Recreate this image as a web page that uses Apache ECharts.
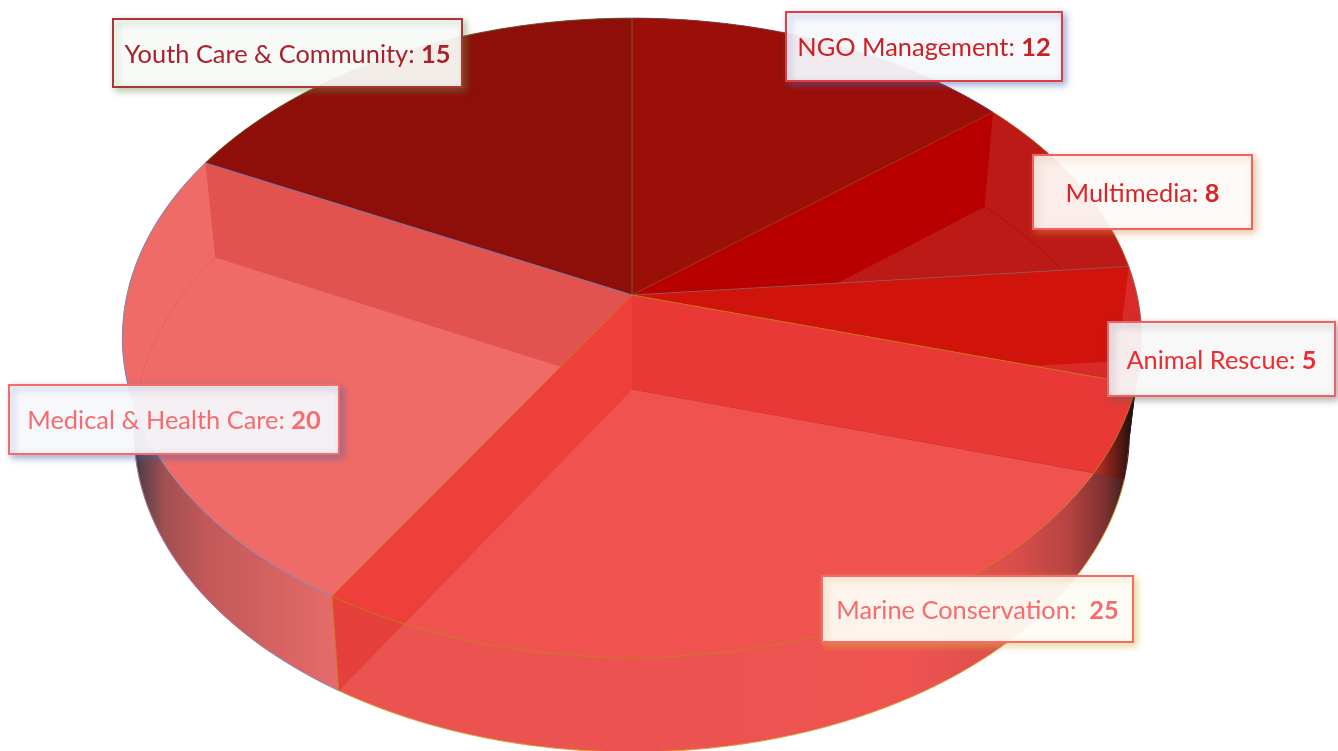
<!DOCTYPE html>
<html><head><meta charset="utf-8">
<style>html,body{margin:0;padding:0;background:#fff}#c{width:1338px;height:751px}</style>
<script src="https://cdn.jsdelivr.net/npm/echarts@6/dist/echarts.min.js"></script>
</head><body><div id="c"></div>
<script>
// ---- data (clockwise from 12 o'clock) ----
const categories = ['NGO Management','Multimedia','Animal Rescue','Marine Conservation','Medical & Health Care','Youth Care & Community'];
const values = [12,8,5,25,20,15];
const separators = [': ',': ',': ',':  ',': ',': '];

// ---- styles ----
const faceColors = ['#9c0e08','#bb1a16','#d92a28','#f05250','#ef6b68','#8e0f09'];
const wallColors = [[null,null],['#b80000',null],['#d0130b',null],['#e83936','#ee3f3a'],[null,'#e2534f'],[null,null]];
const radialColors = ['#7a5a18','#8f3c14','#96504e','#c8761a','#c8761a','#6f7fb0'];
const arcColors = ['#7a3a50','#c06a40','#b06a50','#c8761a','#7a8ac0','#6a5a30'];
const labelInk = ['#cc1f22','#dc2226','#ee2a2e','#f76b6e','#f76b6e','#a8212b'];
const labelBorder = ['#e23c3e','#f26063','#f26063','#f86a68','#f86a68','#ac3538'];
const labelShadow = ['rgba(70,100,190,.55)','rgba(220,140,70,.5)','rgba(90,90,90,.5)','rgba(215,185,70,.6)','rgba(70,100,170,.55)','rgba(100,140,70,.5)'];
const labelBoxes = [[786,12,276,69],[1033,155,219,74],[1108,322,227,74],[822,576,311,66],[9,385,330,69],[113,19,349,68]];

// ---- perspective model of the disc ----
const disc = {cx:632, cy:295, R:505, a:274.4, c:-0.134, drop:94.5, shrink:0.977};
const total = values.reduce((s,v)=>s+v,0);
function bounds(i){let s=0;for(let k=0;k<i;k++)s+=values[k];return [s/total*2*Math.PI,(s+values[i])/total*2*Math.PI];}
function topPt(t){const u=Math.sin(t),v=-Math.cos(t),d=1+disc.c*v;return [disc.cx+disc.R*u/d,(disc.a*v+disc.cy)/d];}
function botPt(t){const u=Math.sin(t),v=-Math.cos(t),d=1+disc.c*v;return [disc.cx+disc.shrink*disc.R*u/d,(disc.a*v+disc.cy)/d+disc.drop];}
const apex=[disc.cx,disc.cy], apexB=[disc.cx,disc.cy+disc.drop];
function arcPts(fn,a,b,n){const p=[];n=n||120;for(let i=0;i<=n;i++)p.push(fn(a+(b-a)*i/n));return p;}
function sideOf(p,a,b){return (b[0]-a[0])*(p[1]-a[1])-(b[1]-a[1])*(p[0]-a[0]);}
function clipHalf(poly,a,b){const out=[];for(let i=0;i<poly.length;i++){const P=poly[i],Q=poly[(i+1)%poly.length],sp=sideOf(P,a,b),sq=sideOf(Q,a,b);
  if(sp>=0)out.push(P);
  if((sp>=0)!==(sq>=0)){const k=sp/(sp-sq);out.push([P[0]+(Q[0]-P[0])*k,P[1]+(Q[1]-P[1])*k]);}}
  return out;}
function clipWedge(poly,t0,t1){let r=clipHalf(poly,apex,topPt(t0));if(r.length)r=clipHalf(r,topPt(t1),apex);return r;}
function grad(x0,x1,stops){return {type:'linear',x:x0,y:0,x2:x1,y2:0,global:true,colorStops:stops.map(s=>({offset:s[0],color:s[1]}))};}
// part of a radial wall that lies inside the top rim: walk the rim from t towards other until it crosses the wall's lower edge
function wallInsideRim(t,other){
  const b=botPt(t),sign=Math.sign(sideOf(apex,apexB,b)),pts=[];
  for(const q of arcPts(topPt,t,other,400)){ if(Math.sign(sideOf(q,apexB,b))!==sign)break; pts.push(q); }
  return [apex].concat(pts,[apexB]);
}
const sideFills = [
  '#8a1010','#a01410',
  grad(1090,1136,[[0,'#c03028'],[.6,'#8a1e18'],[1,'#2a1010']]),
  grad(340,1130,[[0,'#ea5350'],[.72,'#ee5350'],[.85,'#dc4e4a'],[.92,'#b84442'],[.97,'#7a3030'],[1,'#2a1c1c']]),
  grad(133,340,[[0,'#2c2c44'],[.04,'#5a4048'],[.15,'#a05050'],[.35,'#c25858'],[1,'#e66c6a']]),
  '#8a1010'
];
const marineOuterWalls = [grad(1095,1130,[[0,'#b83028'],[.6,'#6a1c14'],[1,'#2a1010']]),'#e5403c'];
const bottomEdge = [null,null,null,'#dca030','#8090b8',null];

const chart = echarts.init(document.getElementById('c'),null,{renderer:'canvas',width:1338,height:751});
const rows = values.map(v=>[v]);

function renderSide(p,api){
  const i=p.dataIndex,[t0,t1]=bounds(i);
  const poly=arcPts(topPt,t0,t1).concat(arcPts(botPt,t1,t0));
  const ch=[{type:'polygon',shape:{points:poly},style:{fill:sideFills[i]}}];
  if(bottomEdge[i])ch.push({type:'polyline',shape:{points:arcPts(botPt,t0,t1)},style:{fill:null,stroke:bottomEdge[i],lineWidth:1}});
  return {type:'group',children:ch};
}
function renderFace(p,api){
  const i=p.dataIndex,[t0,t1]=bounds(i);
  const ch=[{type:'polygon',shape:{points:[apex].concat(arcPts(topPt,t0,t1))},style:{fill:faceColors[i]}}];
  [t0,t1].forEach((t,k)=>{
    const col=wallColors[i][k];if(!col)return;
    const q=clipWedge([apex,topPt(t),botPt(t),apexB],t0,t1);
    if(q.length<3)return;
    if(i===3){ // Marine walls run past the rim: outer part, then the part seen through the top
      ch.push({type:'polygon',shape:{points:q},style:{fill:marineOuterWalls[k]}});
      ch.push({type:'polygon',shape:{points:wallInsideRim(t,k===0?t1:t0)},style:{fill:col}});
    } else ch.push({type:'polygon',shape:{points:q},style:{fill:col}});
  });
  return {type:'group',children:ch};
}
function renderEdge(p,api){
  const i=p.dataIndex,[t0,t1]=bounds(i);
  const ch=[
    {type:'polyline',shape:{points:arcPts(topPt,t0,t1)},style:{fill:null,stroke:arcColors[i],lineWidth:1}},
    {type:'polyline',shape:{points:[apex,topPt(t0)]},style:{fill:null,stroke:radialColors[i],lineWidth:1}}
  ];
  if(i===4)ch.push({type:'polyline',shape:{points:[topPt(t0),botPt(t0)]},style:{fill:null,stroke:'#c8761a',lineWidth:1}});
  if(i===1||i===4){ // faint far rim seen through the disc
    const pts=arcPts(botPt,t0,t1).filter(q=>sideOf(q,apex,topPt(t0))>=0&&sideOf(q,topPt(t1),apex)>=0);
    ch.push({type:'polyline',shape:{points:pts},style:{fill:null,stroke:i===1?'rgba(150,10,10,.5)':'rgba(225,85,85,.5)',lineWidth:1}});
  }
  return {type:'group',children:ch};
}
function renderLabel(p,api){
  const i=p.dataIndex,b=labelBoxes[i];
  const sz=25.4;
  return {type:'group',children:[
    {type:'rect',shape:{x:b[0],y:b[1],width:b[2],height:b[3]},
     style:{fill:'rgba(255,255,255,.9)',stroke:labelBorder[i],lineWidth:2,shadowBlur:7,shadowOffsetX:3,shadowOffsetY:3,shadowColor:labelShadow[i]}},
    {type:'text',style:{x:b[0]+b[2]/2,y:b[1]+b[3]/2+1.5,align:'center',verticalAlign:'middle',
      text:'{n|'+categories[i]+separators[i]+'}{v|'+api.value(0)+'}',
      rich:{n:{fontFamily:'Lato',fontSize:sz,fill:labelInk[i]},v:{fontFamily:'Lato',fontSize:sz,fontWeight:'bold',fill:labelInk[i]}}}}
  ]};
}
const base={type:'custom',coordinateSystem:'none',data:rows,animation:false,silent:true,clip:false};
chart.setOption({
  animation:false,backgroundColor:'#fff',tooltip:{show:false},
  series:[
    Object.assign({},base,{name:'sides',z:1,renderItem:renderSide}),
    Object.assign({},base,{name:'faces',z:2,renderItem:renderFace}),
    Object.assign({},base,{name:'edges',z:3,renderItem:renderEdge}),
    Object.assign({},base,{name:'labels',z:4,renderItem:renderLabel})
  ]
});
</script></body></html>
